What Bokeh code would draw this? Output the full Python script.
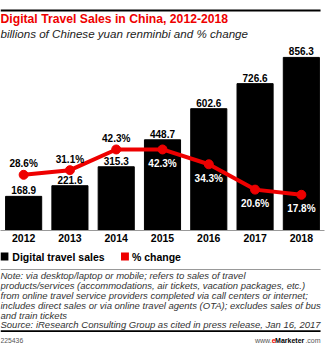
from bokeh.plotting import figure
from bokeh.layouts import column
from bokeh.models import Range1d, FactorRange, Label, ColumnDataSource
from bokeh.core.properties import value
from bokeh.embed import file_html
from bokeh.resources import INLINE

years = ["2012", "2013", "2014", "2015", "2016", "2017", "2018"]
sales = [168.9, 221.6, 315.3, 448.7, 602.6, 726.6, 856.3]
pct_change = [28.6, 31.1, 42.3, 42.3, 34.3, 20.6, 17.8]
pct_label_above = [True, True, True, False, False, False, False]

title_text = "Digital Travel Sales in China, 2012-2018"
subtitle_text = "billions of Chinese yuan renminbi and % change"
legend_labels = ["Digital travel sales", "% change"]
note_lines = [
    "Note: via desktop/laptop or mobile; refers to sales of travel",
    "products/services (accommodations, air tickets, vacation packages, etc.)",
    "from online travel service providers completed via call centers or internet;",
    "includes direct sales or via online travel agents (OTA); excludes sales of bus",
    "and train tickets",
]
source_text = "Source: iResearch Consulting Group as cited in press release, Jan 16, 2017"
chart_id = "225436"

RED = "#ee0000"
FONT = "Liberation Sans"
W, H = 328, 349
TOP_H = 40          # header strip height
MID_END = 250       # canvas y where the chart strip ends
AXIS_PAD = 20       # space for the year axis


def strip(c0, c1):
    f = figure(width=W, height=c1 - c0, x_range=Range1d(0, W), y_range=Range1d(c1, c0),
               output_backend="svg", toolbar_location=None,
               x_axis_location=None, y_axis_location=None,
               min_border_left=0, min_border_right=0, min_border_top=0, min_border_bottom=0)
    f.outline_line_color = None
    f.xgrid.visible = False
    f.ygrid.visible = False
    f.border_fill_color = "white"
    f.background_fill_color = "white"
    return f


def label(f, x, c, text, size, style="normal", color="black", align="left"):
    f.add_layout(Label(x=x, y=c, text=text, text_font=FONT, text_font_size=size,
                       text_font_style=style, text_color=color, text_align=align,
                       text_baseline="middle"))


def hbar(f, c0, c1, x0, x1, color):
    f.quad(left=[x0], right=[x1], top=[c0], bottom=[c1], fill_color=color, line_color=None)


# ---- header ----
top = strip(0, TOP_H)
hbar(top, 9, 11, 0, 324, "black")
label(top, 0, 18.5, title_text, "12.2px", "bold", RED)
label(top, 0, 32.5, subtitle_text, "11.6px", "italic", "#222222")

# ---- chart ----
p = figure(width=W, height=MID_END - TOP_H,
           x_range=FactorRange(factors=years, range_padding=0),
           y_range=Range1d(0, 940),
           output_backend="svg", toolbar_location=None, y_axis_location=None,
           min_border_left=0, min_border_right=4, min_border_top=0, min_border_bottom=AXIS_PAD)
p.extra_y_ranges = {"pct": Range1d(-1.5, 101.2)}
p.outline_line_color = None
p.xgrid.visible = False
p.ygrid.visible = False
p.background_fill_color = "white"
p.border_fill_color = "white"

ax = p.xaxis[0]
ax.axis_line_color = "#999999"
ax.axis_line_width = 1
ax.major_tick_line_color = None
ax.minor_tick_line_color = None
ax.major_tick_out = 0
ax.major_tick_in = 0
ax.major_label_standoff = 3
ax.major_label_text_font = FONT
ax.major_label_text_font_style = "bold"
ax.major_label_text_font_size = "10.5px"
ax.major_label_text_color = "black"

p.vbar(x=years, top=sales, width=0.78, color="black")
p.text(x=years, y=sales, text=[f"{v:.1f}" for v in sales],
       text_align="center", text_baseline="bottom", y_offset=-2,
       text_font=value(FONT), text_font_style="bold", text_font_size="10px", text_color="black")

p.line(x=years, y=pct_change, y_range_name="pct", line_color=RED, line_width=4)
p.scatter(x=years, y=pct_change, y_range_name="pct", size=9, color=RED)

above = ColumnDataSource(dict(
    x=[y for y, a in zip(years, pct_label_above) if a],
    y=[v for v, a in zip(pct_change, pct_label_above) if a],
    t=[f"{v:.1f}%" for v, a in zip(pct_change, pct_label_above) if a]))
below = ColumnDataSource(dict(
    x=[y for y, a in zip(years, pct_label_above) if not a],
    y=[v for v, a in zip(pct_change, pct_label_above) if not a],
    t=[f"{v:.1f}%" for v, a in zip(pct_change, pct_label_above) if not a]))
p.text(x="x", y="y", text="t", source=above, y_range_name="pct", y_offset=-11,
       text_align="center", text_baseline="middle",
       text_font=value(FONT), text_font_style="bold", text_font_size="10px", text_color="black")
p.text(x="x", y="y", text="t", source=below, y_range_name="pct", y_offset=14,
       text_align="center", text_baseline="middle",
       text_font=value(FONT), text_font_style="bold", text_font_size="10px", text_color="white")

# ---- footer ----
bot = strip(MID_END, H)
hbar(bot, 252, 260, 0, 8, "black")
label(bot, 12, 256, legend_labels[0], "10.5px", "bold")
hbar(bot, 252, 260, 122, 130, RED)
label(bot, 133, 256, legend_labels[1], "10.5px", "bold")

hbar(bot, 268.5, 269.5, 0, 324, "#999999")
for i, line in enumerate(note_lines):
    label(bot, 0, 275.3 + 9.8 * i, line, "9.5px", "italic", "#333333")
label(bot, 0, 324.3, source_text, "9.5px", "italic", "#333333")
hbar(bot, 329.8, 331.6, 0, 324, "black")
label(bot, 0, 340, chart_id, "6.8px", "normal", "#555555")

label(bot, 324, 340, ".com", "7px", "normal", "#555555", "right")
label(bot, 307.5, 340, "Marketer", "7px", "bold", "black", "right")
label(bot, 278.5, 340, "e", "7px", "bold", RED, "right")
label(bot, 274.5, 340, "www.", "7px", "normal", "#555555", "right")

layout = column(top, p, bot, spacing=0)
open("out.html", "w").write(file_html(layout, INLINE))
